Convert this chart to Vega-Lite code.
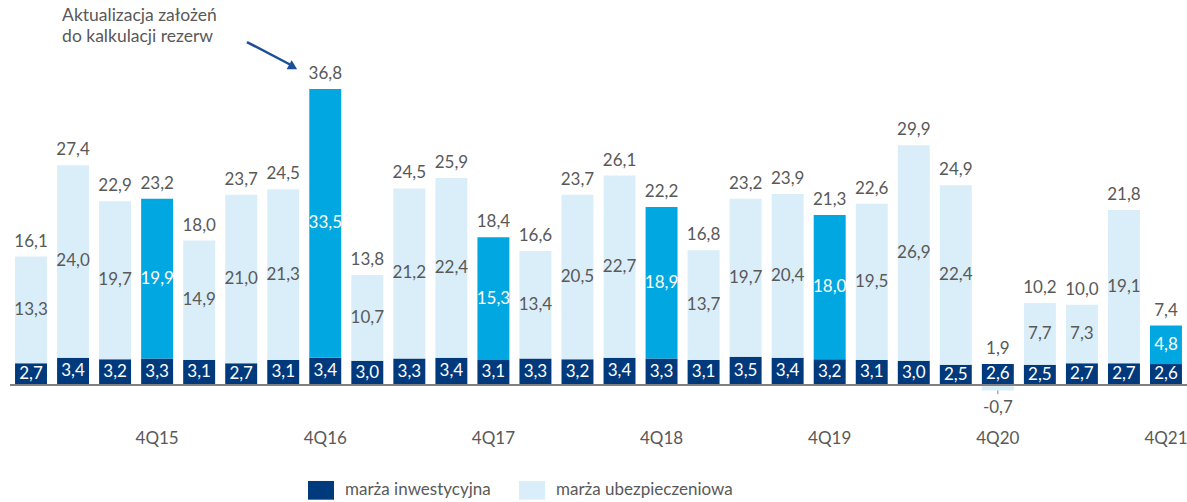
{
  "$schema": "https://vega.github.io/schema/vega-lite/v6.json",
  "width": 1177,
  "height": 425,
  "autosize": {"type": "none"},
  "padding": {"left": 10, "top": 0, "right": 0, "bottom": 77},
  "background": "white",
  "config": {"view": {"stroke": null}, "font": "Lato", "text": {"font": "Lato"}},
  "data": {"values": [
    {"q": "1Q15", "inv": 2.7, "ins": 13.3, "total": 16.1},
    {"q": "2Q15", "inv": 3.4, "ins": 24.0, "total": 27.4},
    {"q": "3Q15", "inv": 3.2, "ins": 19.7, "total": 22.9},
    {"q": "4Q15", "inv": 3.3, "ins": 19.9, "total": 23.2},
    {"q": "1Q16", "inv": 3.1, "ins": 14.9, "total": 18.0},
    {"q": "2Q16", "inv": 2.7, "ins": 21.0, "total": 23.7},
    {"q": "3Q16", "inv": 3.1, "ins": 21.3, "total": 24.5},
    {"q": "4Q16", "inv": 3.4, "ins": 33.5, "total": 36.8},
    {"q": "1Q17", "inv": 3.0, "ins": 10.7, "total": 13.8},
    {"q": "2Q17", "inv": 3.3, "ins": 21.2, "total": 24.5},
    {"q": "3Q17", "inv": 3.4, "ins": 22.4, "total": 25.9},
    {"q": "4Q17", "inv": 3.1, "ins": 15.3, "total": 18.4},
    {"q": "1Q18", "inv": 3.3, "ins": 13.4, "total": 16.6},
    {"q": "2Q18", "inv": 3.2, "ins": 20.5, "total": 23.7},
    {"q": "3Q18", "inv": 3.4, "ins": 22.7, "total": 26.1},
    {"q": "4Q18", "inv": 3.3, "ins": 18.9, "total": 22.2},
    {"q": "1Q19", "inv": 3.1, "ins": 13.7, "total": 16.8},
    {"q": "2Q19", "inv": 3.5, "ins": 19.7, "total": 23.2},
    {"q": "3Q19", "inv": 3.4, "ins": 20.4, "total": 23.9},
    {"q": "4Q19", "inv": 3.2, "ins": 18.0, "total": 21.3},
    {"q": "1Q20", "inv": 3.1, "ins": 19.5, "total": 22.6},
    {"q": "2Q20", "inv": 3.0, "ins": 26.9, "total": 29.9},
    {"q": "3Q20", "inv": 2.5, "ins": 22.4, "total": 24.9},
    {"q": "4Q20", "inv": 2.6, "ins": -0.7, "total": 1.9},
    {"q": "1Q21", "inv": 2.5, "ins": 7.7, "total": 10.2},
    {"q": "2Q21", "inv": 2.7, "ins": 7.3, "total": 10.0},
    {"q": "3Q21", "inv": 2.7, "ins": 19.1, "total": 21.8},
    {"q": "4Q21", "inv": 2.6, "ins": 4.8, "total": 7.4}
  ]},
  "transform": [
    {"calculate": "datum.ins > 0 ? datum.inv : 0", "as": "ins0"},
    {"calculate": "datum.ins > 0 ? datum.inv + datum.ins : datum.ins", "as": "ins1"},
    {"calculate": "datum.inv + max(datum.ins, 0)", "as": "top"},
    {"calculate": "datum.inv / 2", "as": "invMid"},
    {"calculate": "(datum.ins0 + datum.ins1) / 2", "as": "insMid"},
    {"calculate": "test(/^4Q/, datum.q) && datum.ins > 0", "as": "hl"},
    {"calculate": "replace(format(datum.inv, '.1f'), '.', ',')", "as": "invL"},
    {"calculate": "replace(replace(format(datum.ins, '.1f'), '.', ','), '\u2212', '-')", "as": "insL"},
    {"calculate": "replace(format(datum.total, '.1f'), '.', ',')", "as": "totL"}
  ],
  "layer": [
    {
      "mark": {"type": "bar"},
      "encoding": {
        "x": {"field": "q", "type": "nominal", "sort": null, "title": null,
              "scale": {"paddingInner": 0.24, "paddingOuter": 0.12},
              "axis": {"domain": false, "ticks": false, "labelAngle": 0, "labelOverlap": false,
                       "labelExpr": "indexof(datum.value, '4Q') == 0 ? datum.value : ''",
                       "labelFont": "Lato", "labelFontSize": 17, "labelColor": "#595959", "labelPadding": 5}},
        "y": {"field": "inv", "type": "quantitative", "scale": {"domain": [-5, 48], "nice": false, "zero": false}, "axis": null},
        "y2": {"datum": 0},
        "color": {"datum": "marża inwestycyjna", "type": "nominal",
                  "scale": {"domain": ["marża inwestycyjna", "marża ubezpieczeniowa"], "range": ["#003a7d", "#d9eef8"]},
                  "legend": {"orient": "none", "legendX": 298, "legendY": 477, "direction": "horizontal", "title": null,
                             "symbolType": "M-1,-0.72L1,-0.72L1,0.72L-1,0.72Z", "symbolSize": 676, "symbolStrokeWidth": 0,
                             "labelFont": "Lato", "labelFontSize": 17, "labelColor": "#595959", "labelOffset": 11,
                             "labelLimit": 400, "columnPadding": 28}}
      }
    },
    {
      "mark": {"type": "bar"},
      "encoding": {
        "x": {"field": "q", "type": "nominal", "sort": null},
        "y": {"field": "ins1", "type": "quantitative"},
        "y2": {"field": "ins0"},
        "color": {"condition": {"test": "datum.hl", "value": "#00a7e1"}, "datum": "marża ubezpieczeniowa", "type": "nominal"}
      }
    },
    {
      "mark": {"type": "rule", "color": "#808080", "strokeWidth": 1.5},
      "encoding": {"y": {"datum": 0}}
    },
    {
      "mark": {"type": "text", "color": "white", "fontSize": 17, "baseline": "middle"},
      "encoding": {
        "x": {"field": "q", "type": "nominal", "sort": null},
        "y": {"field": "invMid", "type": "quantitative"},
        "text": {"field": "invL"}
      }
    },
    {
      "transform": [{"filter": "datum.ins > 0"}],
      "mark": {"type": "text", "fontSize": 17, "baseline": "middle"},
      "encoding": {
        "x": {"field": "q", "type": "nominal", "sort": null},
        "y": {"field": "insMid", "type": "quantitative"},
        "text": {"field": "insL"},
        "color": {"condition": {"test": "datum.hl", "value": "white"}, "value": "#595959"}
      }
    },
    {
      "transform": [{"filter": "datum.ins < 0"}],
      "mark": {"type": "text", "fontSize": 17, "baseline": "middle", "dy": 17, "color": "#595959"},
      "encoding": {
        "x": {"field": "q", "type": "nominal", "sort": null},
        "y": {"field": "ins", "type": "quantitative"},
        "text": {"field": "insL"}
      }
    },
    {
      "transform": [{"filter": "datum.ins < 0"}],
      "mark": {"type": "rule", "color": "#808080", "strokeWidth": 1},
      "encoding": {
        "x": {"field": "q", "type": "nominal", "sort": null},
        "y": {"field": "ins", "type": "quantitative"},
        "y2": {"datum": -1.15}
      }
    },
    {
      "mark": {"type": "text", "fontSize": 17, "baseline": "alphabetic", "dy": -10, "color": "#595959"},
      "encoding": {
        "x": {"field": "q", "type": "nominal", "sort": null},
        "y": {"field": "top", "type": "quantitative"},
        "text": {"field": "totL"}
      }
    },
    {
      "data": {"values": [{}]},
      "mark": {"type": "text", "text": ["Aktualizacja założeń", "do kalkulacji rezerw"], "align": "left", "baseline": "top",
               "lineHeight": 21, "fontSize": 17.5, "color": "#595959", "dx": 5},
      "encoding": {
        "x": {"datum": "2Q15", "bandPosition": 0},
        "y": {"datum": 47.1}
      }
    },
    {
      "data": {"values": [{}]},
      "mark": {"type": "rule", "color": "#1b4f9a", "strokeWidth": 2.5},
      "encoding": {
        "x": {"datum": "2Q16", "bandPosition": 0.68},
        "x2": {"datum": "3Q16", "bandPosition": 0.8},
        "y": {"datum": 42.76},
        "y2": {"datum": 39.77}
      }
    },
    {
      "data": {"values": [{}]},
      "mark": {"type": "point", "shape": "triangle-right", "filled": true, "color": "#1b4f9a", "size": 110, "angle": 29, "opacity": 1},
      "encoding": {
        "x": {"datum": "3Q16", "bandPosition": 0.81},
        "y": {"datum": 39.65}
      }
    }
  ]
}
